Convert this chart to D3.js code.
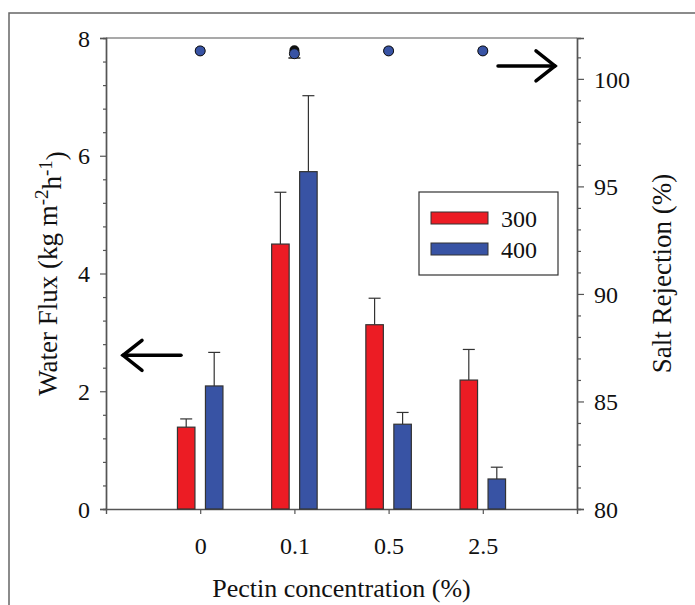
<!DOCTYPE html>
<html>
<head>
<meta charset="utf-8">
<script src="https://cdn.jsdelivr.net/npm/d3@7"></script>
<style>
  body { margin: 0; background: #fff; }
  svg text { font-family: "Liberation Serif", "Times New Roman", serif; fill: #111; }
</style>
</head>
<body>
<div id="chart"></div>
<script>
// flux bars + salt rejection dots, two pressures

const categories = ["0", "0.1", "0.5", "2.5"];
const series = ["300", "400"];

const flux300 = [1.39, 4.50, 3.13, 2.19];
const flux300Err = [0.14, 0.88, 0.45, 0.52];
const flux400 = [2.09, 5.73, 1.44, 0.51];
const flux400Err = [0.57, 1.29, 0.20, 0.20];

const rej300 = [101.3, 101.33, 101.3, 101.3];
const rej400 = [101.3, 101.17, 101.3, 101.3];
const rej400Err = [0, 0.2, 0, 0];

const leftTicks = [0, 2, 4, 6, 8];
const rightTicks = [80, 85, 90, 95, 100];

var width = 695;
var height = 605;
var margin = {left: 106, top: 38, right: 118, bottom: 96};

var svg = d3.select("#chart").append("svg")
    .attr("width", width)
    .attr("height", height);

// outer frame
svg.append("rect")
  .attr("x", 9).attr("y", 13)
  .attr("width", width + 20).attr("height", height + 20)
  .attr("fill", "none")
  .attr("stroke", "#666")
  .attr("stroke-width", 1.5);

var x = d3.scaleLinear()
    .domain([0, categories.length + 1])
    .range([margin.left, width - margin.right]);

var yL = d3.scaleLinear()
    .domain([0, 8])
    .range([height - margin.bottom, margin.top]);

var yR = d3.scaleLinear()
    .domain([80, 101.9])
    .range([height - margin.bottom, margin.top]);

var colors = {"300": "#ec1c24", "400": "#3853a4"};
var barW = 17.5, off = 14;

// top border of plot
svg.append("line")
  .attr("x1", x.range()[0]).attr("x2", x.range()[1])
  .attr("y1", margin.top).attr("y2", margin.top)
  .attr("stroke", "#555").attr("stroke-width", 1.2);

// axes
var axL = svg.append("g")
  .attr("transform", "translate(" + margin.left + ",0)")
  .call(d3.axisLeft(yL).tickValues(leftTicks).tickSize(6).tickPadding(10).tickFormat(d3.format("d")));
axL.append("g").call(d3.axisLeft(yL).tickValues(d3.range(0, 8.01, 0.4).filter(function(d){ return Math.abs(d/2 - Math.round(d/2)) > 0.01; })).tickSize(3).tickFormat(""));

var axR = svg.append("g")
  .attr("transform", "translate(" + (width - margin.right) + ",0)")
  .call(d3.axisRight(yR).tickValues(rightTicks).tickSize(7).tickPadding(10));
axR.append("g").call(d3.axisRight(yR).tickValues(d3.range(81, 102, 1).filter(function(d){ return d % 5 != 0; })).tickSize(4).tickFormat(""));

var axB = svg.append("g")
  .attr("transform", "translate(0," + (height - margin.bottom) + ")")
  .call(d3.axisBottom(x).tickValues(d3.range(1, categories.length + 1)).tickSize(5).tickPadding(23)
    .tickFormat(function(d){ return categories[d - 1]; }));

svg.selectAll(".domain").attr("stroke", "#555").attr("stroke-width", 1.4);
svg.selectAll(".tick line").attr("stroke", "#555").attr("stroke-width", 1.2);
svg.selectAll(".tick text").attr("font-size", "24px").attr("font-family", "Liberation Serif").attr("fill", "#111");
axL.selectAll(".tick text").attr("dy", "0.34em");
axR.selectAll(".tick text").attr("dy", "0.34em");

// bars
var groups = [
  {s: "300", vals: flux300, err: flux300Err, dx: -off},
  {s: "400", vals: flux400, err: flux400Err, dx: off}
];

groups.forEach(function(gr) {
  var g = svg.append("g").attr("class", "bars-" + gr.s);
  g.selectAll("line.err")
    .data(gr.vals).enter().append("line")
      .attr("x1", function(d, i){ return x(i + 1) + gr.dx; })
      .attr("x2", function(d, i){ return x(i + 1) + gr.dx; })
      .attr("y1", function(d){ return yL(d); })
      .attr("y2", function(d, i){ return yL(d + gr.err[i]); })
      .attr("stroke", "#333").attr("stroke-width", 1.2);
  g.selectAll("line.cap")
    .data(gr.vals).enter().append("line")
      .attr("x1", function(d, i){ return x(i + 1) + gr.dx - 6; })
      .attr("x2", function(d, i){ return x(i + 1) + gr.dx + 6; })
      .attr("y1", function(d, i){ return yL(d + gr.err[i]); })
      .attr("y2", function(d, i){ return yL(d + gr.err[i]); })
      .attr("stroke", "#333").attr("stroke-width", 1.2);
  g.selectAll("rect")
    .data(gr.vals).enter().append("rect")
      .attr("x", function(d, i){ return x(i + 1) + gr.dx - barW / 2; })
      .attr("y", function(d){ return yL(d); })
      .attr("width", barW)
      .attr("height", function(d){ return yL(0) - yL(d); })
      .attr("fill", colors[gr.s])
      .attr("stroke", "#333").attr("stroke-width", 1.2);
});

// salt rejection dots
svg.append("g").selectAll("circle")
  .data(rej300).enter().append("circle")
    .attr("cx", function(d, i){ return x(i + 1); })
    .attr("cy", function(d){ return yR(d); })
    .attr("r", 5)
    .attr("fill", "#111");

svg.append("g").selectAll("line")
  .data(rej400).enter().append("line")
    .attr("x1", function(d, i){ return x(i + 1) - 6; })
    .attr("x2", function(d, i){ return x(i + 1) + 6; })
    .attr("y1", function(d, i){ return yR(d - rej400Err[i]); })
    .attr("y2", function(d, i){ return yR(d - rej400Err[i]); })
    .attr("stroke", "#222")
    .attr("stroke-width", 1.5)
    .attr("opacity", function(d, i){ return rej400Err[i] > 0 ? 1 : 0; });

svg.append("g").selectAll("circle")
  .data(rej400).enter().append("circle")
    .attr("cx", function(d, i){ return x(i + 1); })
    .attr("cy", function(d){ return yR(d); })
    .attr("r", 5)
    .attr("fill", colors["400"])
    .attr("stroke", "#111").attr("stroke-width", 1);

// legend
var legend = svg.append("g").attr("transform", "translate(419,192)");
legend.append("rect")
  .attr("width", 139).attr("height", 83)
  .attr("fill", "#fff").attr("stroke", "#333").attr("stroke-width", 1.2);
var li = legend.selectAll("g.item").data(series).enter().append("g")
  .attr("transform", function(d, i){ return "translate(12," + (20 + i * 31) + ")"; });
li.append("rect")
  .attr("width", 57).attr("height", 12)
  .attr("fill", function(d){ return colors[d]; })
  .attr("stroke", "#333").attr("stroke-width", 1);
li.append("text")
  .attr("x", 70).attr("y", 15)
  .attr("font-size", "24px")
  .text(function(d){ return d; });

// arrows
function arrow(x1, x2, y, dir) {
  var a = svg.append("g").attr("stroke", "#000").attr("stroke-width", 3.5).attr("fill", "none")
    .attr("stroke-linecap", "round");
  a.append("line").attr("x1", x1).attr("x2", x2).attr("y1", y).attr("y2", y);
  var tip = dir < 0 ? x1 : x2;
  a.append("path")
    .attr("d", "M" + (tip - dir * 19) + "," + (y - 15) + " L" + tip + "," + y + " L" + (tip - dir * 19) + "," + (y + 15))
    .attr("stroke-linejoin", "miter");
}
arrow(123, 181, yL(2.61), -1);
arrow(498, 555, yR(100.6), 1);

// titles
var yt = svg.append("text")
  .attr("transform", "translate(57," + yL(4) + ") rotate(-90)")
  .attr("text-anchor", "middle")
  .attr("font-size", "27px");
yt.append("tspan").text("Water Flux (kg m");
yt.append("tspan").attr("dy", "-0.5em").attr("font-size", "19px").text("-2");
yt.append("tspan").attr("dy", "0.5em").text("h");
yt.append("tspan").attr("dy", "-0.5em").attr("font-size", "19px").text("-1");
yt.append("tspan").attr("dy", "0.5em").text(")");

svg.append("text")
  .attr("transform", "translate(671," + yL(4) + ") rotate(-90)")
  .attr("text-anchor", "middle")
  .attr("font-size", "27px")
  .text("Salt Rejection (%)");

svg.append("text")
  .attr("x", (x.range()[0] + x.range()[1]) / 2)
  .attr("y", 597)
  .attr("text-anchor", "middle")
  .attr("font-size", "26px")
  .text("Pectin concentration (%)");
</script>
</body>
</html>
